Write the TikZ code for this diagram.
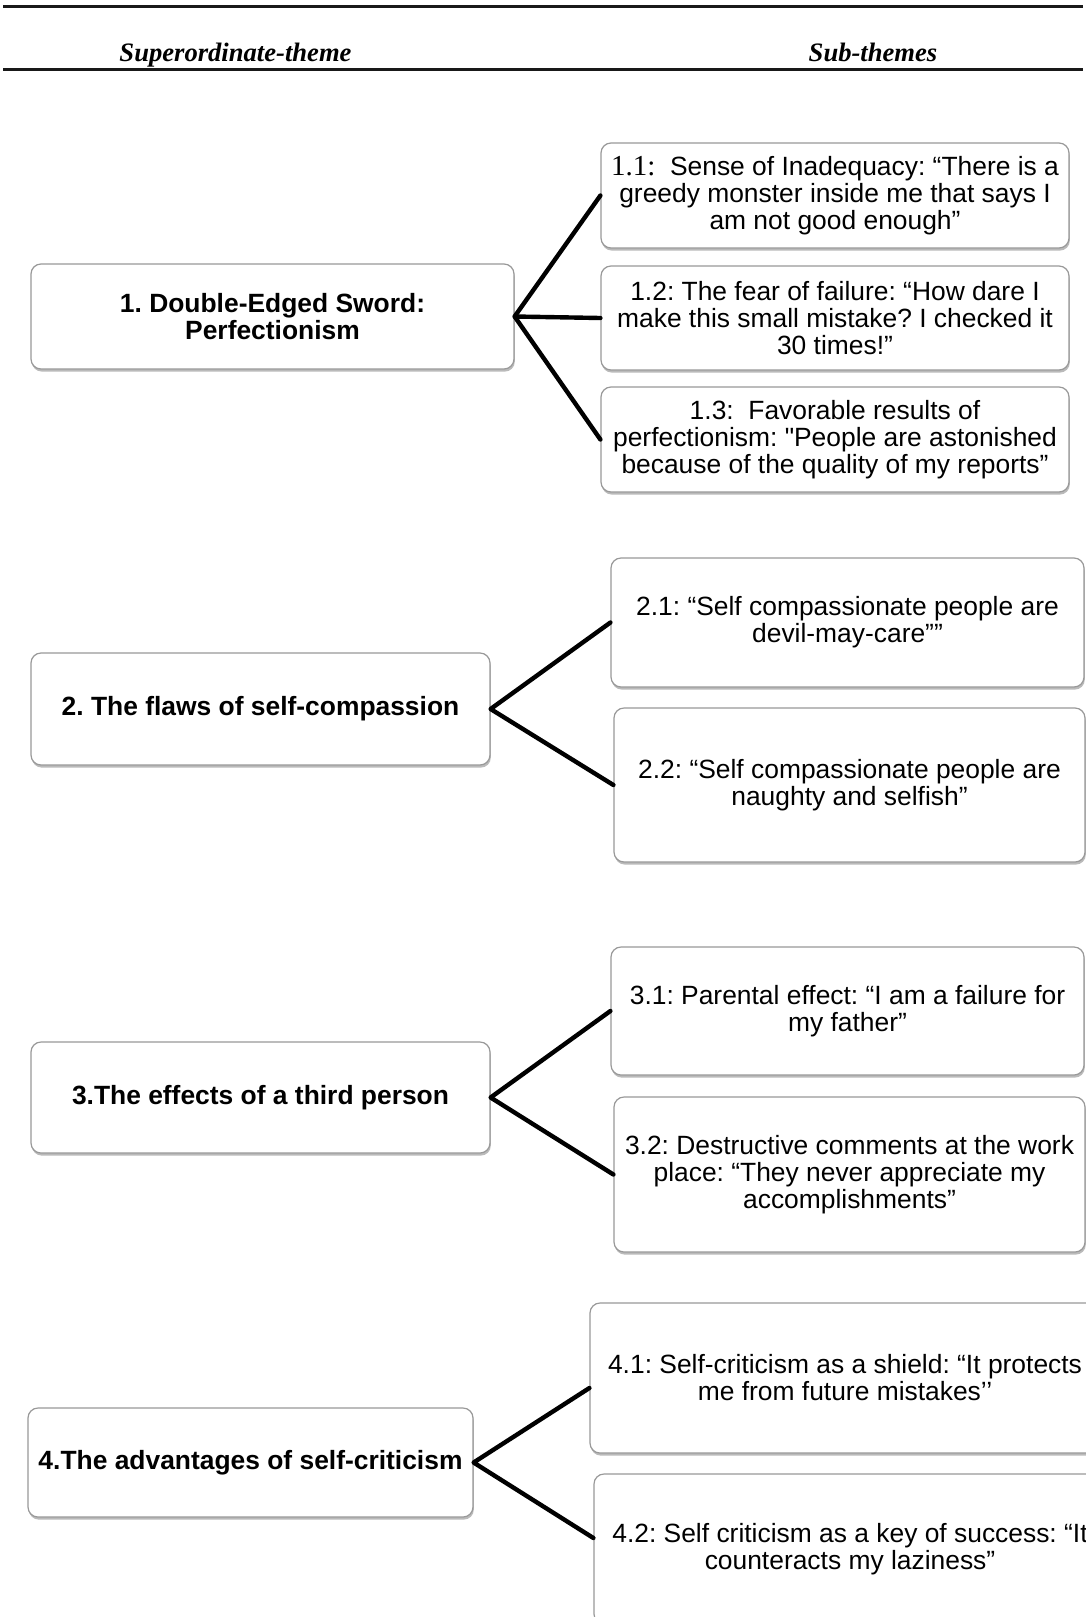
\documentclass[tikz,border=0pt]{standalone}
\usepackage{fontspec}
\setmainfont{Liberation Sans}
\newfontfamily\tnr{Liberation Serif}
\usetikzlibrary{shadows}
\frenchspacing
\tikzset{
  box/.style={draw=black!40, line width=0.6pt, rounded corners=5pt, fill=white,
    drop shadow={shadow xshift=0.4pt, shadow yshift=-1.3pt, fill=black!60, opacity=0.45},
    align=center, inner sep=0pt, font=\fontsize{13.2}{13.5}\selectfont},
  mainbox/.style={box, font=\fontsize{13.2}{13.5}\selectfont\bfseries},
  link/.style={line width=2.2pt, black, line join=round, line cap=round},
  header/.style={anchor=base, inner sep=0pt, font=\tnr\fontsize{13.3}{13.3}\selectfont\bfseries\itshape},
  rule/.style={line width=1.5pt, black!90}
}
\begin{document}
\begin{tikzpicture}[x=0.5pt,y=-0.5pt]
\fill[white] (0,0) rectangle (1086,1617);
\useasboundingbox (0,0) rectangle (1086,1617);

% header
\draw[rule] (3,6) -- (1083,6);
\node[header] (h1) at (235.5,61) {Superordinate-theme};
\node[header] (h2) at (873,61) {Sub-themes};
\draw[rule] (3,69) -- (1083,69);

% main themes
\node[mainbox, minimum width=241.5pt, minimum height=52.5pt] (m1) at (272.5,316.5)
  {1. Double-Edged Sword:\\ Perfectionism};
\node[mainbox, minimum width=229.5pt, minimum height=56pt] (m2) at (260.5,709)
  {2. The flaws of self-compassion};
\node[mainbox, minimum width=229.5pt, minimum height=55.5pt] (m3) at (260.5,1097.5)
  {3.The effects of a third person};
\node[mainbox, minimum width=222.5pt, minimum height=54.5pt] (m4) at (250.5,1462.5)
  {4.The advantages of self-criticism};

% sub-themes
\node[box, minimum width=234pt, minimum height=52.5pt] (s11) at (835,195.5)
  {{\tnr\fontsize{14.5}{13.5}\selectfont 1.1:}\ \ Sense of Inadequacy: “There is a\\ greedy monster inside me that says I\\ am not good enough”};
\node[box, minimum width=234pt, minimum height=52pt] (s12) at (835,318)
  {1.2: The fear of failure: “How dare I\\ make this small mistake? I checked it\\ 30 times!”};
\node[box, minimum width=234pt, minimum height=52.5pt] (s13) at (835,439.5)
  {1.3:\ \ Favorable results of\\ perfectionism: \textquotedbl People are astonished\\ because of the quality of my reports”};

\node[box, minimum width=236.5pt, minimum height=64.5pt] (s21) at (847.5,622.5)
  {2.1: “Self compassionate people are\\ devil-may-care””};
\node[box, minimum width=235.5pt, minimum height=77pt] (s22) at (849.5,785)
  {2.2: “Self compassionate people are\\ naughty and selfish”};

\node[box, minimum width=236.5pt, minimum height=64pt] (s31) at (847.5,1011)
  {3.1: Parental effect: “I am a failure for\\ my father”};
\node[box, minimum width=235.5pt, minimum height=77.5pt] (s32) at (849.5,1174.5)
  {3.2: Destructive comments at the work\\ place: “They never appreciate my\\ accomplishments”};

\node[box, minimum width=255pt, minimum height=75pt] (s41) at (845,1378)
  {4.1: Self-criticism as a shield: “It protects\\ me from future mistakes’’};
\node[box, minimum width=256pt, minimum height=75pt] (s42) at (850,1549)
  {4.2: Self criticism as a key of success: “It\\ counteracts my laziness”};

% connectors
\draw[link] (s11.west) -- (m1.east) -- (s13.west);
\draw[link] (m1.east) -- (s12.west);
\draw[link] (s21.west) -- (m2.east) -- (s22.west);
\draw[link] (s31.west) -- (m3.east) -- (s32.west);
\draw[link] ([yshift=-5pt]s41.west) -- (m4.east) -- ([yshift=5.5pt]s42.west);
\end{tikzpicture}
\end{document}
